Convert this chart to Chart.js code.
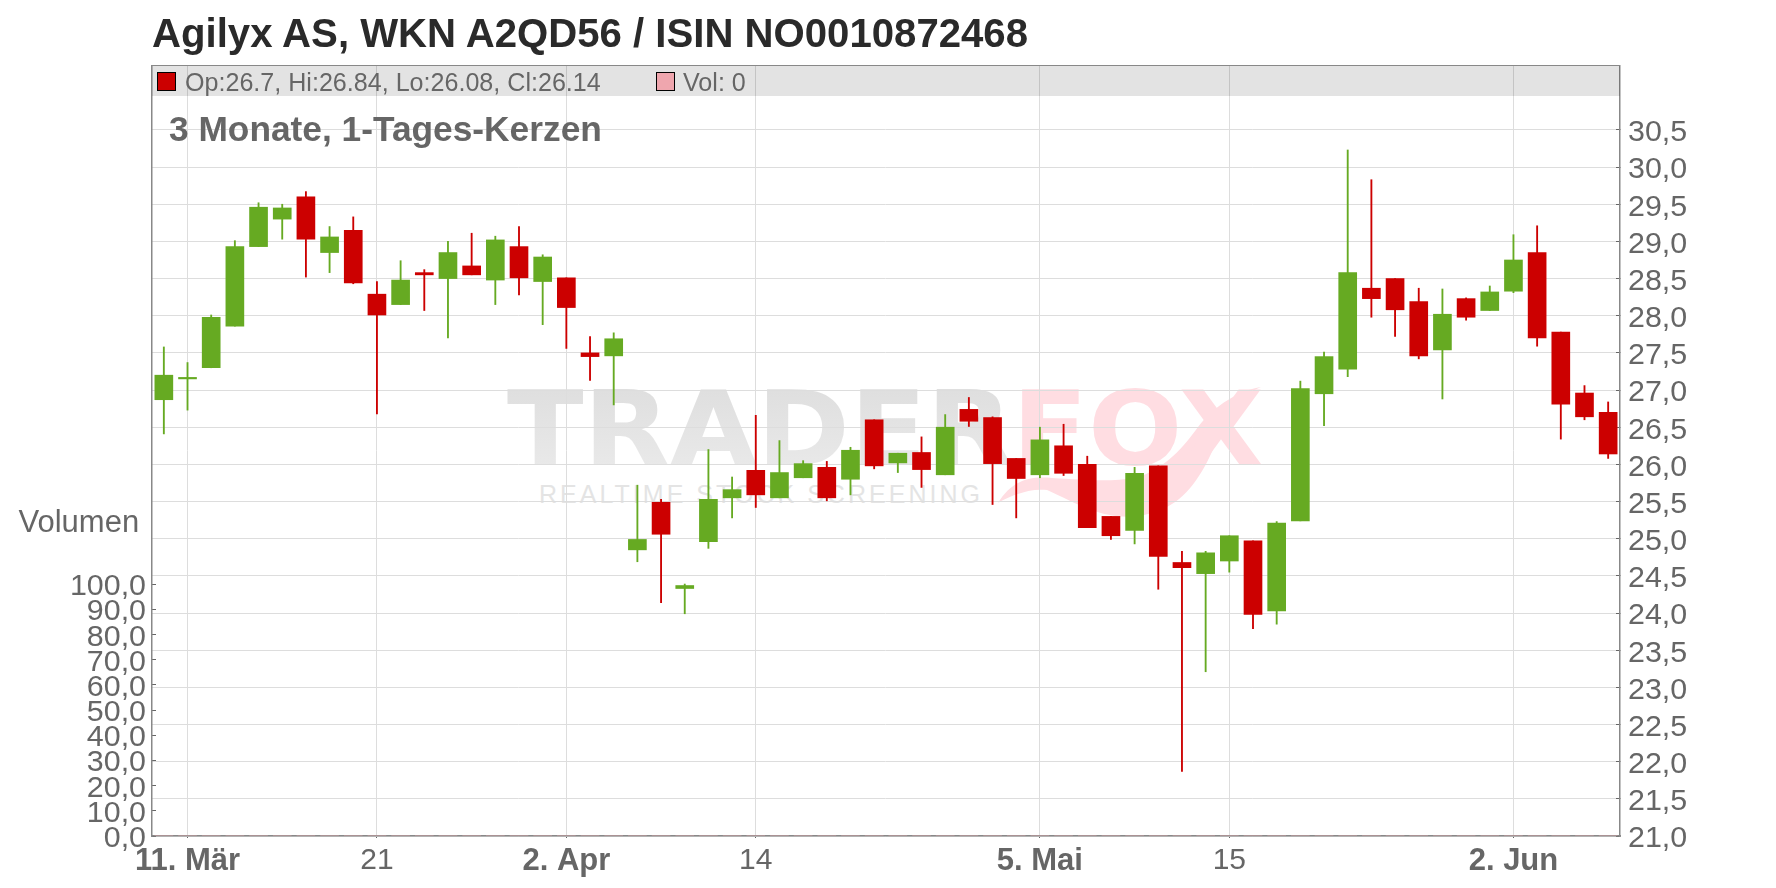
<!DOCTYPE html>
<html lang="de">
<head>
<meta charset="utf-8">
<title>Agilyx AS</title>
<script src="https://cdn.jsdelivr.net/npm/chart.js@4"></script>
<style>
  html, body { margin: 0; padding: 0; background: #fff; }
  body { position: relative; width: 1776px; height: 888px; overflow: hidden; font-family: "Liberation Sans", Arial, sans-serif; }
  #chart, #watermark, .label, .swatch, #header { position: absolute; }
  #watermark { left: 0; top: 0; }
  #chart { left: 0; top: 0; }
  .label { line-height: 1; white-space: nowrap; color: #666; }
  #title { left: 152px; top: 14px; font-size: 40.15px; font-weight: bold; color: #2a2a2a; }
  #header { left: 152px; top: 65px; width: 1468px; height: 30px; background: rgba(0,0,0,0.11); border-top: 1.5px solid #888; }
  .swatch { top: 72px; width: 17px; height: 17px; border: 1px solid #000; }
  .info { top: 69.5px; font-size: 25.1px; }
  #period { left: 169px; top: 110.5px; font-size: 35.3px; font-weight: bold; }
  #volLabel { left: 18.5px; top: 506px; font-size: 31px; }
</style>
</head>
<body>
<svg id="watermark" width="1776" height="888" xmlns="http://www.w3.org/2000/svg">
  <defs>
    <linearGradient id="grayFade" x1="0" y1="0" x2="0" y2="1">
      <stop offset="0" stop-color="#dcdcdc"/>
      <stop offset="1" stop-color="#ececec"/>
    </linearGradient>
  </defs>
  <path fill="#ffdde2" d="M998,503 C1012,480 1030,476 1052,478 C1085,480 1110,482 1135,478 C1165,470 1185,445 1198,427 C1215,405 1240,390 1261,387 C1240,395 1225,420 1217,440 C1205,470 1190,495 1167,507 C1145,518 1125,518 1110,515 C1090,512 1065,498 1047,490 C1030,488 1012,495 998,503 Z"/>
  <text x="507" y="465" font-family="DejaVu Sans" font-weight="bold" font-size="104" fill="url(#grayFade)" textLength="506" lengthAdjust="spacingAndGlyphs">TRADER</text>
  <text x="1012" y="465" font-family="DejaVu Sans" font-weight="bold" font-size="104" fill="#ffdde2" textLength="252" lengthAdjust="spacingAndGlyphs">FOX</text>
  <text x="539" y="503" font-family="Liberation Sans" font-size="25" fill="#e4e4e4" textLength="441" lengthAdjust="spacing">REALTIME STOCK SCREENING</text>
</svg>
<canvas id="chart" width="1776" height="888"></canvas>
<div class="label" id="title">Agilyx AS, WKN A2QD56 / ISIN NO0010872468</div>
<div id="header"></div>
<div class="swatch" style="left:157px;background:#cc0000"></div>
<div class="label info" style="left:185px">Op:26.7, Hi:26.84, Lo:26.08, Cl:26.14</div>
<div class="swatch" style="left:656px;background:#efa6ae"></div>
<div class="label info" style="left:683px">Vol: 0</div>
<div class="label" id="period">3 Monate, 1-Tages-Kerzen</div>
<div class="label" id="volLabel">Volumen</div>

<script>
// only the labelled days get a tick, the rest stay empty
const categories = [
  "", "11. Mär", "", "", "", "", "", "", "", "21", "", "", "", "", "", "", "", "2. Apr", "", "", "",
  "", "", "", "", "14", "", "", "", "", "", "", "", "", "", "", "", "5. Mai", "", "", "", "",
  "", "", "", "15", "", "", "", "", "", "", "", "", "", "", "", "2. Jun", "", "", "", ""
];

const opens = [
  26.87, 27.15, 27.30, 27.86, 28.93, 29.30, 29.60, 28.85, 29.15, 28.29, 28.15, 28.58, 28.50, 28.67, 28.48, 28.93,
  28.46, 28.51, 27.50, 27.46, 24.85, 25.49, 24.33, 24.96, 25.55, 25.92, 25.55, 25.82, 25.96, 25.80, 26.60, 26.02,
  26.16, 25.86, 26.74, 26.63, 26.08, 25.86, 26.25, 26.00, 25.30, 25.11, 25.98, 24.68, 24.53, 24.70, 24.97, 24.03,
  25.24, 26.95, 27.28, 28.37, 28.50, 28.19, 27.54, 28.23, 28.07, 28.33, 28.85, 27.78, 26.96, 26.70
];
const highs = [
  27.58, 27.37, 28.01, 29.01, 29.52, 29.50, 29.67, 29.20, 29.33, 28.46, 28.74, 28.62, 29.00, 29.11, 29.07, 29.20,
  28.82, 28.51, 27.72, 27.77, 25.72, 25.53, 24.39, 26.20, 25.83, 26.66, 26.32, 26.05, 26.04, 26.23, 26.60, 26.15,
  26.37, 26.67, 26.90, 26.64, 26.08, 26.50, 26.54, 26.11, 25.30, 25.96, 25.98, 24.83, 24.83, 25.04, 24.97, 25.23,
  27.12, 27.51, 30.23, 29.83, 28.50, 28.37, 28.36, 28.24, 28.40, 29.09, 29.21, 27.78, 27.06, 26.84
];
const lows = [
  26.41, 26.73, 27.30, 27.86, 28.93, 29.03, 28.52, 28.58, 28.43, 26.68, 28.15, 28.07, 27.70, 28.55, 28.15, 28.28,
  27.88, 27.56, 27.13, 26.80, 24.69, 24.14, 23.99, 24.87, 25.28, 25.42, 25.55, 25.82, 25.51, 25.59, 25.94, 25.89,
  25.69, 25.86, 26.51, 25.46, 25.28, 25.82, 25.85, 25.15, 24.99, 24.93, 24.32, 21.87, 23.21, 24.55, 23.79, 23.85,
  25.24, 26.52, 27.18, 27.98, 27.72, 27.42, 26.88, 27.94, 28.07, 28.31, 27.59, 26.34, 26.60, 26.08
];
const closes = [
  27.20, 27.17, 27.98, 28.93, 29.46, 29.45, 29.03, 29.06, 28.44, 28.01, 28.48, 28.55, 28.85, 28.55, 29.02, 28.51,
  28.79, 28.11, 27.45, 27.69, 24.99, 25.06, 24.37, 25.53, 25.66, 25.59, 25.89, 26.01, 25.55, 26.19, 25.98, 26.15,
  25.93, 26.50, 26.58, 26.01, 25.81, 26.33, 25.88, 25.15, 25.04, 25.88, 24.76, 24.61, 24.81, 25.04, 23.98, 25.21,
  27.02, 27.45, 28.58, 28.23, 28.08, 27.46, 28.02, 27.98, 28.32, 28.75, 27.70, 26.81, 26.64, 26.14
];
const volumes = [
  0, 0, 0, 0, 0, 0, 0, 0, 0, 0, 0, 0, 0, 0, 0, 0, 0, 0, 0, 0, 0, 0, 0, 0, 0, 0, 0, 0, 0, 0, 0,
  0, 0, 0, 0, 0, 0, 0, 0, 0, 0, 0, 0, 0, 0, 0, 0, 0, 0, 0, 0, 0, 0, 0, 0, 0, 0, 0, 0, 0, 0, 0
];

const priceTicks = [21, 21.5, 22, 22.5, 23, 23.5, 24, 24.5, 25, 25.5, 26, 26.5, 27, 27.5, 28, 28.5, 29, 29.5, 30, 30.5];
const volumeTicks = [0, 10, 20, 30, 40, 50, 60, 70, 80, 90, 100];

const GREEN = "#66aa22";
const RED = "#cc0000";
const candleColors = closes.map((c, i) => (c >= opens[i] ? GREEN : RED));

const germanNumber = v => v.toFixed(1).replace(".", ",");

new Chart(document.getElementById("chart"), {
  type: "bar",
  data: {
    labels: categories,
    datasets: [
      {
        label: "Docht",
        data: highs.map((h, i) => [lows[i], h]),
        backgroundColor: candleColors,
        barThickness: 1.2,
        grouped: false,
        yAxisID: "price",
        order: 2
      },
      {
        label: "Kerze",
        data: closes.map((c, i) => [opens[i], c]),
        backgroundColor: candleColors,
        barThickness: 18,
        grouped: false,
        yAxisID: "price",
        order: 1
      },
      {
        label: "Volumen",
        data: volumes,
        backgroundColor: "#efa6ae",
        barThickness: 18,
        grouped: false,
        yAxisID: "volume",
        order: 3
      }
    ]
  },
  options: {
    responsive: false,
    animation: false,
    devicePixelRatio: 1,
    layout: { padding: { top: 66, left: 0, right: 0, bottom: 0 } },
    plugins: { legend: { display: false }, title: { display: false }, tooltip: { enabled: false } },
    scales: {
      x: {
        type: "category",
        afterBuildTicks: axis => {
          axis.ticks = categories.map((c, i) => ({ value: i })).filter(t => categories[t.value] !== "");
        },
        afterFit: axis => { axis.height = 52; },
        grid: { offset: false, color: "#dddddd", lineWidth: 1, tickLength: 2, tickColor: "#666666" },
        border: { color: "#888888", width: 1.5 },
        ticks: {
          autoSkip: false,
          maxRotation: 0,
          padding: 5,
          color: "#666666",
          font: ctx => {
            const bold = ctx.tick && String(ctx.tick.label).includes(".");
            return { family: "Liberation Sans", size: bold ? 31 : 30, weight: bold ? "bold" : "normal" };
          }
        }
      },
      price: {
        type: "linear",
        position: "right",
        min: 21,
        max: 31.36,
        afterBuildTicks: axis => { axis.ticks = priceTicks.map(v => ({ value: v })); },
        afterFit: axis => { axis.width = 156; },
        grid: { color: "#dddddd", lineWidth: 1, tickLength: -4, tickColor: "#666666" },
        border: { color: "#888888", width: 1.5 },
        ticks: {
          autoSkip: false,
          padding: 12,
          labelOffset: 3,
          color: "#666666",
          font: { family: "Liberation Sans", size: 30.4 },
          callback: germanNumber
        }
      },
      volume: {
        type: "linear",
        position: "left",
        min: 0,
        max: 305.9,
        afterBuildTicks: axis => { axis.ticks = volumeTicks.map(v => ({ value: v })); },
        afterFit: axis => { axis.width = 152; },
        grid: { drawOnChartArea: false, tickLength: -4, tickColor: "#666666" },
        border: { color: "#888888", width: 1.5 },
        ticks: {
          autoSkip: false,
          padding: 10,
          labelOffset: 2.5,
          color: "#666666",
          font: { family: "Liberation Sans", size: 30.4 },
          callback: germanNumber
        }
      }
    }
  }
});
</script>
</body>
</html>
